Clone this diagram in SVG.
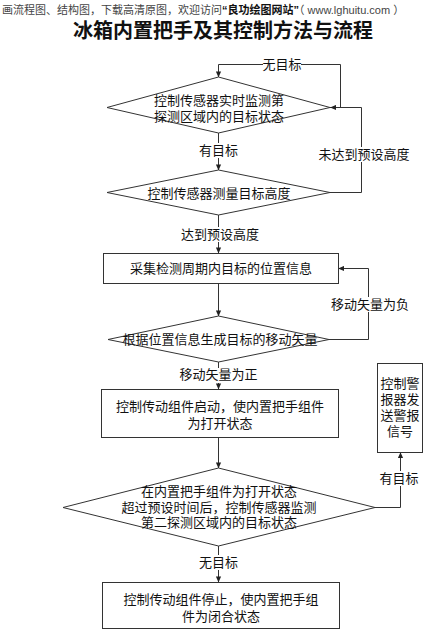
<svg xmlns="http://www.w3.org/2000/svg" width="424" height="630" viewBox="0 0 424 630">
<defs>
<style>
.t{font-family:"Liberation Sans","Noto Sans CJK SC",sans-serif;font-size:13px;fill:#111;text-anchor:middle}
.s{fill:#fff;stroke:#333;stroke-width:1}
.c{fill:none;stroke:#333;stroke-width:1}
.lb{fill:#fff}
</style>
<marker id="a" viewBox="0 0 8 8" refX="7.5" refY="4" markerWidth="6" markerHeight="6" orient="auto" markerUnits="userSpaceOnUse">
<path d="M0,0.5 L8,4 L0,7.5 Z" fill="#222"/>
</marker>
</defs>
<rect width="424" height="630" fill="#fff"/>
<text x="2" y="14" style="font-family:'Liberation Sans','Noto Sans CJK SC',sans-serif;font-size:11px;fill:#444">画流程图、结构图，下载高清原图，欢迎访问<tspan font-weight="bold" fill="#111">“良功绘图网站”</tspan>（ www.lghuitu.com ）</text>
<text x="223" y="38" style="font-family:'Liberation Sans','Noto Sans CJK SC',sans-serif;font-size:20px;font-weight:bold;fill:#111;text-anchor:middle">冰箱内置把手及其控制方法与流程</text>

<g id="connectors">
<polyline class="c" points="330,107.5 340.5,107.5 340.5,64.5 218.5,64.5 218.5,77" marker-end="url(#a)"/>
<polyline class="c" points="330,192.5 361.5,192.5 361.5,107.5 330.5,107.5" marker-end="url(#a)"/>
<line class="c" x1="218.5" y1="133" x2="218.5" y2="170" marker-end="url(#a)"/>
<line class="c" x1="218.5" y1="215" x2="218.5" y2="253" marker-end="url(#a)"/>
<line class="c" x1="218.5" y1="283" x2="218.5" y2="316" marker-end="url(#a)"/>
<polyline class="c" points="329,339.5 368.5,339.5 368.5,268.5 338.5,268.5" marker-end="url(#a)"/>
<line class="c" x1="218.5" y1="362" x2="218.5" y2="389" marker-end="url(#a)"/>
<line class="c" x1="218.5" y1="438" x2="218.5" y2="468" marker-end="url(#a)"/>
<polyline class="c" points="375,507.5 400.5,507.5 400.5,452.5" marker-end="url(#a)"/>
<line class="c" x1="218.5" y1="546" x2="218.5" y2="582" marker-end="url(#a)"/>
<rect class="lb" x="263" y="57" width="38" height="15"/>
<text class="t" x="282" y="69">无目标</text>
<rect class="lb" x="199" y="143" width="39" height="15"/>
<text class="t" x="218.5" y="155">有目标</text>
<rect class="lb" x="317" y="147" width="95" height="15"/>
<text class="t" x="364" y="159">未达到预设高度</text>
<rect class="lb" x="180" y="227" width="80" height="15"/>
<text class="t" x="220" y="239">达到预设高度</text>
<rect class="lb" x="329" y="297" width="82" height="15"/>
<text class="t" x="370" y="309">移动矢量为负</text>
<rect class="lb" x="178" y="368" width="81" height="15"/>
<text class="t" x="218.5" y="379">移动矢量为正</text>
<rect class="lb" x="379" y="471" width="40" height="15"/>
<text class="t" x="399" y="483">有目标</text>
<rect class="lb" x="199" y="555" width="39" height="15"/>
<text class="t" x="218.5" y="567">无目标</text>
</g>

<g id="n1">
<polygon class="s" points="218.5,77 330,107.5 218.5,133 107,107.5"/>
<text class="t" x="219" y="104.5">控制传感器实时监测第</text>
<text class="t" x="219" y="120.5">探测区域内的目标状态</text>
</g>
<g id="n2">
<polygon class="s" points="218.5,170 330,192.5 218.5,215 107,192.5"/>
<text class="t" x="219" y="197.5">控制传感器测量目标高度</text>
</g>
<g id="n3">
<rect class="s" x="103.5" y="253.5" width="235" height="30"/>
<text class="t" x="221" y="272.5">采集检测周期内目标的位置信息</text>
</g>
<g id="n4">
<polygon class="s" points="218.5,316 329,339.5 218.5,362 108,339.5"/>
<text class="t" x="220" y="344">根据位置信息生成目标的移动矢量</text>
</g>
<g id="n5">
<rect class="s" x="101.5" y="389.5" width="237" height="48"/>
<text class="t" x="220" y="410.5">控制传动组件启动，使内置把手组件</text>
<text class="t" x="220" y="427.5">为打开状态</text>
</g>
<g id="n6">
<polygon class="s" points="218.5,468 375,507.5 218.5,546 63,507.5"/>
<text class="t" x="219" y="496">在内置把手组件为打开状态</text>
<text class="t" x="219" y="511.5">超过预设时间后，控制传感器监测</text>
<text class="t" x="219" y="527">第二探测区域内的目标状态</text>
</g>
<g id="n7">
<rect class="s" x="377.5" y="363.5" width="45" height="89"/>
<text class="t" x="400" y="387.5">控制警</text>
<text class="t" x="400" y="403.5">报器发</text>
<text class="t" x="400" y="419.5">送警报</text>
<text class="t" x="400" y="435.5">信号</text>
</g>
<g id="n8">
<rect class="s" x="102.5" y="582.5" width="237" height="46"/>
<text class="t" x="221" y="603.5">控制传动组件停止，使内置把手组</text>
<text class="t" x="221" y="620.5">件为闭合状态</text>
</g>
</svg>
